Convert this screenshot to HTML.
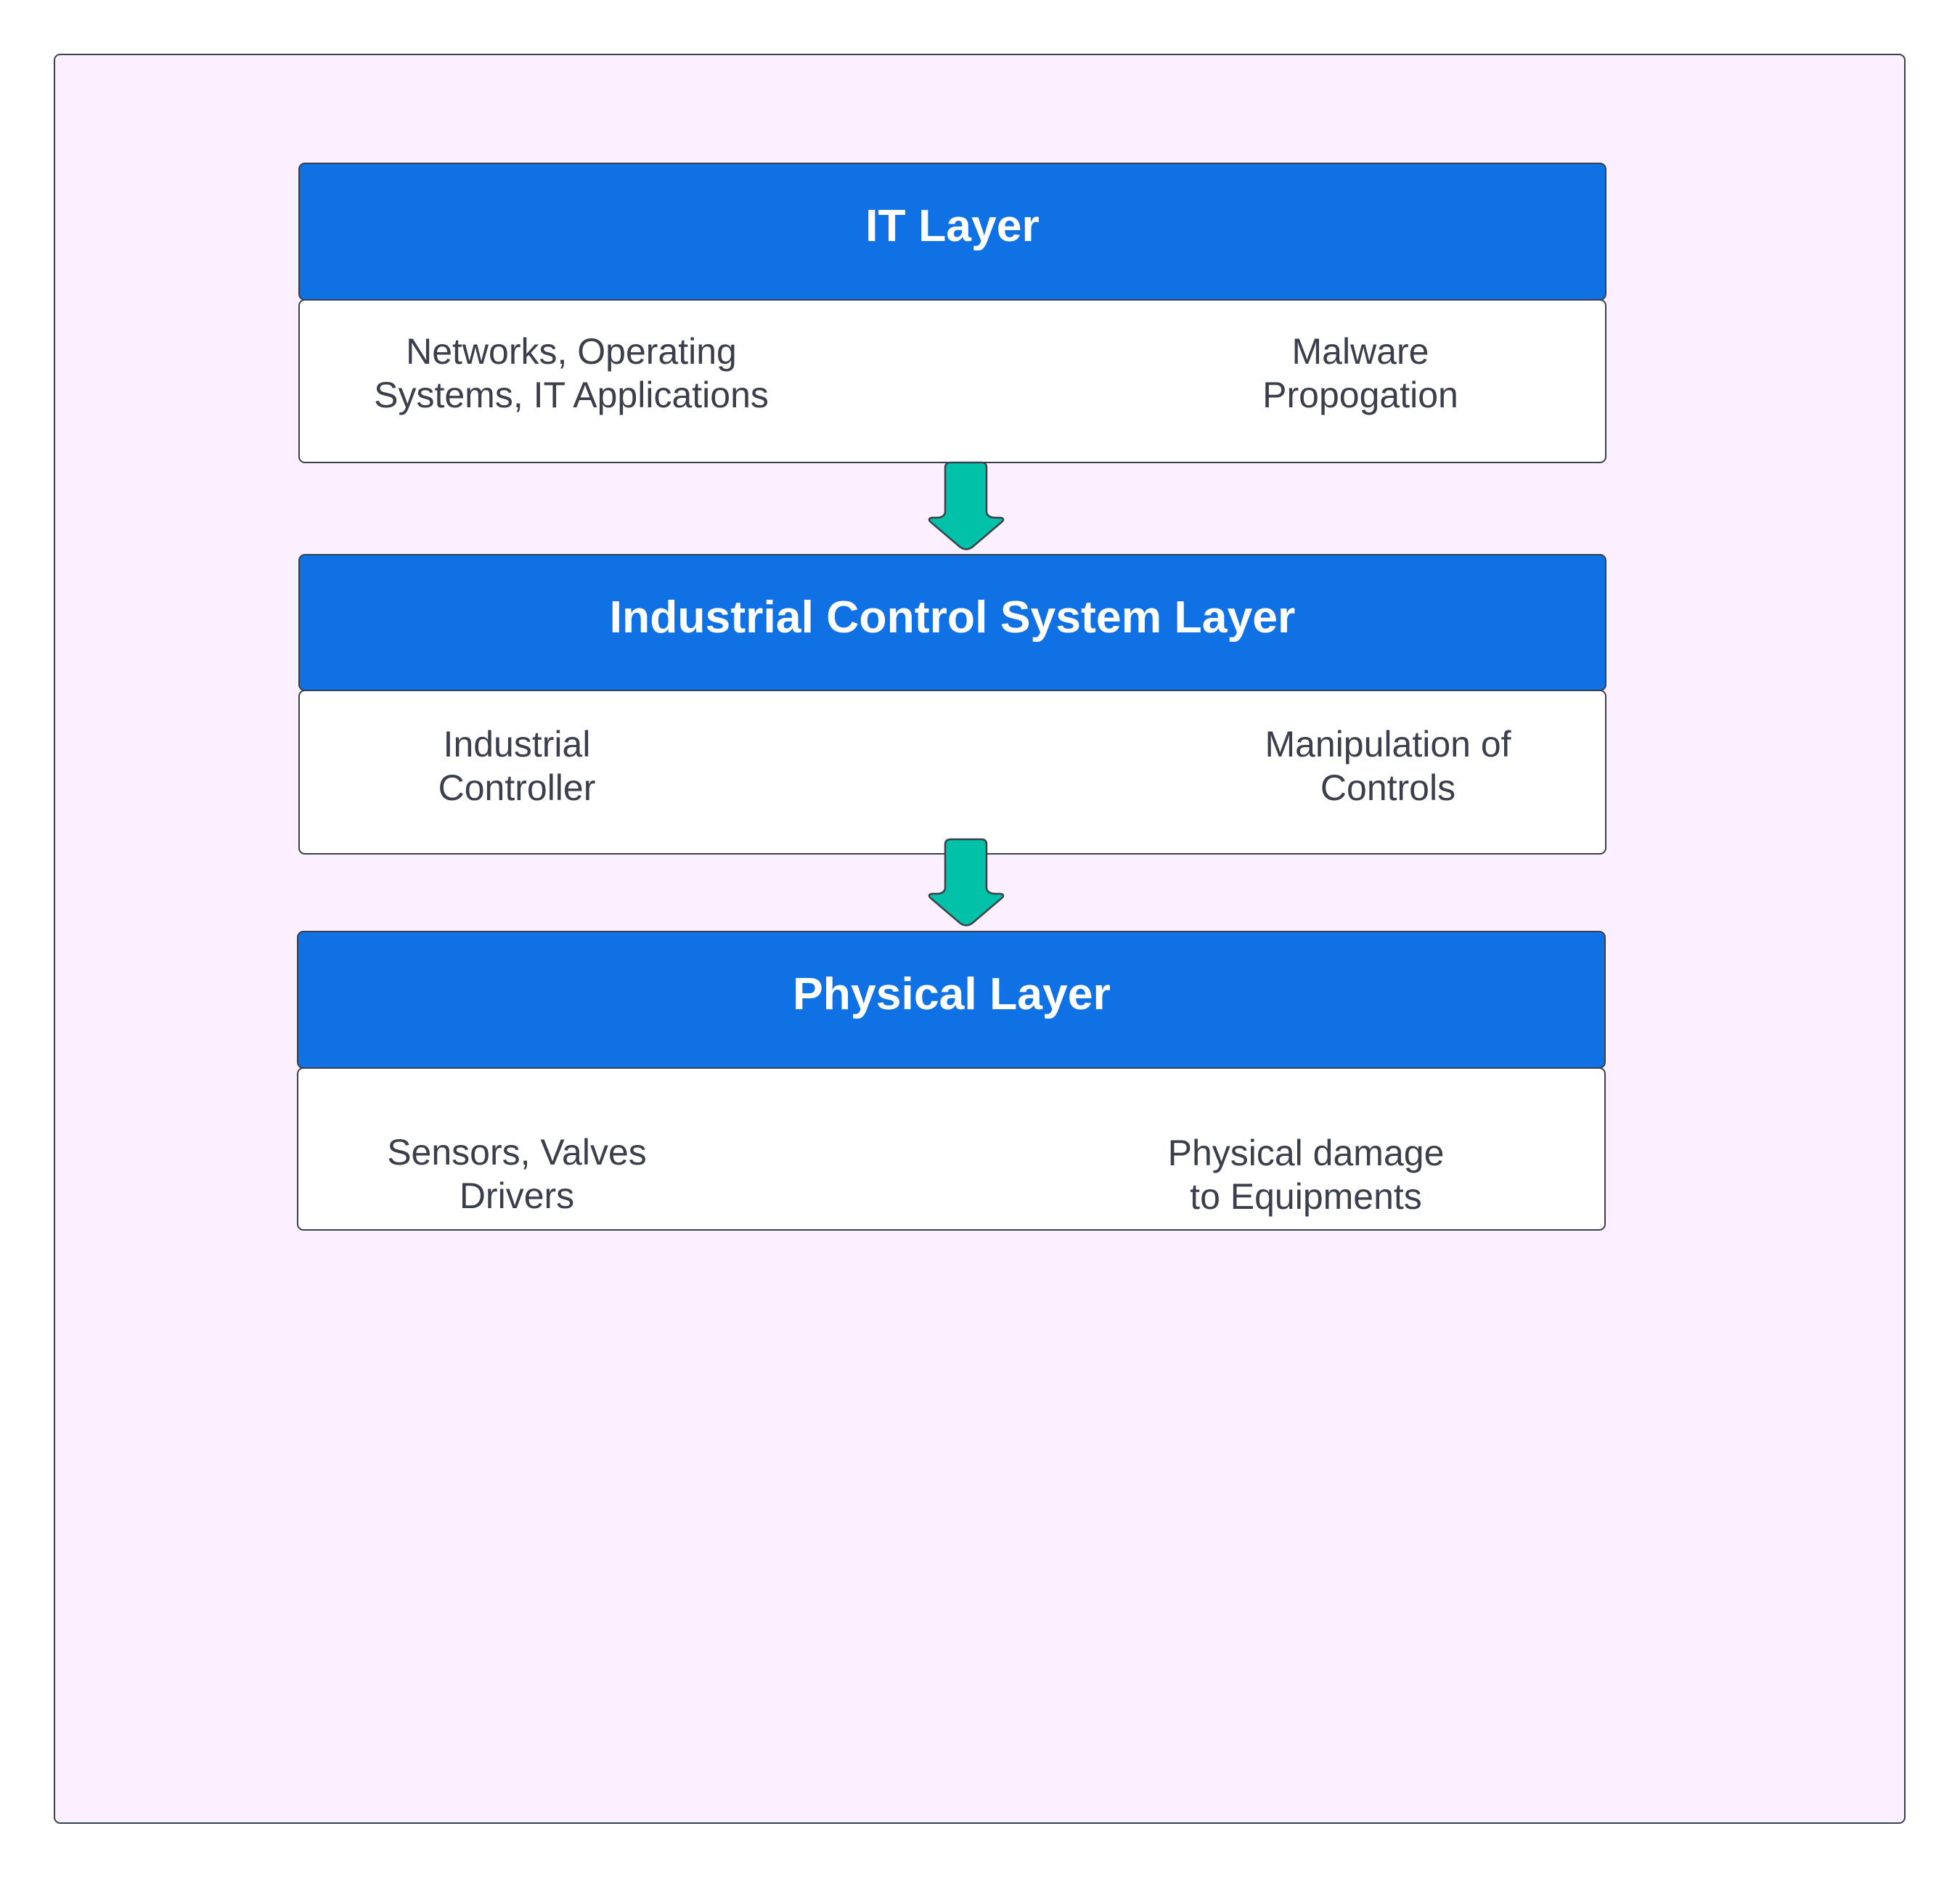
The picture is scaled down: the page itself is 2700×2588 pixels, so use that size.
<!DOCTYPE html>
<html><head><meta charset="utf-8"><style>
html,body{margin:0;padding:0;background:#fff;}
svg{display:block;}
text{font-family:"Liberation Sans",sans-serif;}
</style></head><body>
<svg width="2700" height="2588" viewBox="0 0 2700 2588" xmlns="http://www.w3.org/2000/svg">
<rect x="75" y="75" width="2549" height="2436" rx="8" fill="#fcefff" stroke="#3a414a" stroke-width="2"/>

<g stroke="#3a414a" stroke-width="2">
<rect x="412" y="225" width="1800" height="188" rx="8" fill="#1071e5"/>
<rect x="412" y="413" width="1800" height="224" rx="8" fill="#fff"/>
<rect x="412" y="764" width="1800" height="187" rx="8" fill="#1071e5"/>
<rect x="412" y="951" width="1800" height="225" rx="8" fill="#fff"/>
<text x="1282" y="1318" font-size="48" fill="#3a3f4b" stroke="none">D</text>
<rect x="410" y="1283" width="1801" height="188" rx="8" fill="#1071e5"/>
<rect x="410" y="1471" width="1801" height="223" rx="8" fill="#fff"/>
<path d="M1310 637 H1352 Q1359 637 1359 644 V704 Q1359 713 1372 713 H1378 Q1385 714 1380 719 L1340 753 Q1331 760 1322 753 L1282 719 Q1277 714 1284 713 H1290 Q1302 713 1302 704 V644 Q1302 637 1310 637 Z" fill="#00c2a8" stroke-width="2.5"/>
<path d="M1310 1156 H1352 Q1359 1156 1359 1163 V1222 Q1359 1231 1372 1231 H1378 Q1385 1232 1380 1237 L1340 1271 Q1331 1278 1322 1271 L1282 1237 Q1277 1232 1284 1231 H1290 Q1302 1231 1302 1222 V1163 Q1302 1156 1310 1156 Z" fill="#00c2a8" stroke-width="2.5"/>
</g>

<g font-weight="bold" font-size="62.5" fill="#fff" text-anchor="middle">
<text x="1312" y="332">IT Layer</text>
<text x="1312" y="871">Industrial Control System Layer</text>
<text x="1311" y="1390">Physical Layer</text>
</g>
<g font-size="50" fill="#3a3f4b" text-anchor="middle">
<text x="787" y="501">Networks, Operating</text>
<text x="787" y="561">Systems, IT Applications</text>
<text x="1874" y="501">Malware</text>
<text x="1874" y="561">Propogation</text>
<text x="712" y="1042">Industrial</text>
<text x="712" y="1102">Controller</text>
<text x="1912" y="1042">Manipulation of</text>
<text x="1912" y="1102">Controls</text>
<text x="712" y="1604">Sensors, Valves</text>
<text x="712" y="1664">Drivers</text>
<text x="1799" y="1605">Physical damage</text>
<text x="1799" y="1665">to Equipments</text>
</g>
</svg>
</body></html>
